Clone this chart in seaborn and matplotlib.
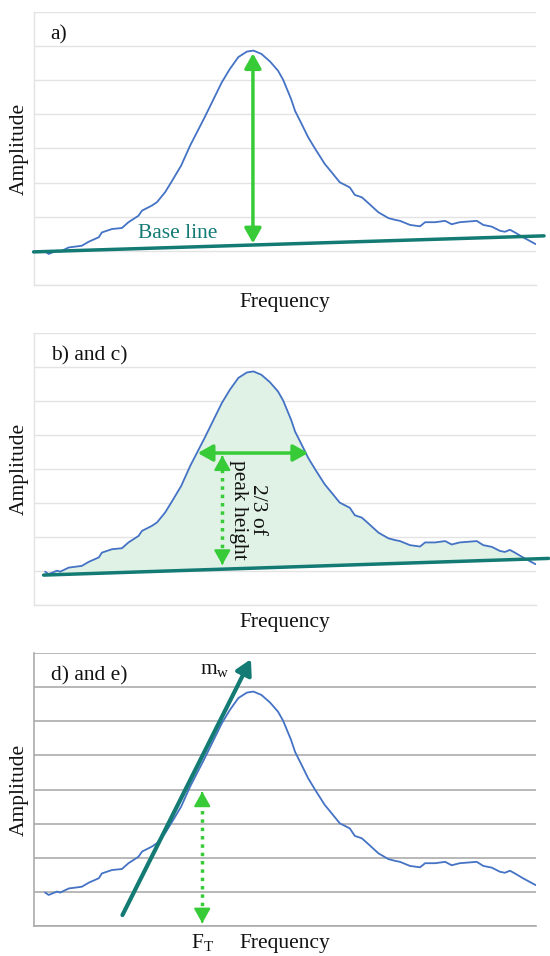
import numpy as np
import pandas as pd
import matplotlib
matplotlib.use("Agg")
import matplotlib.pyplot as plt
import matplotlib.transforms as mtrans
import seaborn as sns

# ---- data (x: 0-100 frequency units, y: grid units) ----
freq = [2.3, 3.0, 4.7, 5.3, 7.0, 9.6, 11.0, 13.0, 13.6, 15.6, 17.6, 18.9, 20.9,
        21.6, 23.6, 24.6, 26.2, 27.5, 29.4, 31.2, 34.1, 37.5, 39.1, 40.8, 42.5,
        43.8, 45.4, 47.1, 48.7, 49.7, 50.6, 51.3, 52.1, 53.4, 54.7, 56.1, 58.0,
        59.4, 61.0, 63.0, 64.0, 65.4, 66.7, 68.7, 70.7, 72.0, 73.0, 75.0, 77.0,
        78.0, 80.0, 82.0, 83.3, 84.9, 86.6, 88.3, 89.6, 91.3, 92.9, 93.9, 94.9,
        95.9, 97.5, 100.0]
amp = [0.98, 0.91, 1.01, 0.98, 1.10, 1.15, 1.27, 1.40, 1.54, 1.64, 1.67, 1.84, 2.03,
       2.18, 2.33, 2.43, 2.72, 3.03, 3.50, 4.09, 4.92, 5.94, 6.33, 6.68, 6.84,
       6.87, 6.77, 6.55, 6.28, 6.02, 5.70, 5.45, 5.10, 4.72, 4.33, 3.99, 3.55,
       3.30, 3.01, 2.86, 2.64, 2.57, 2.40, 2.13, 1.96, 1.91, 1.88, 1.76, 1.72,
       1.84, 1.84, 1.88, 1.78, 1.84, 1.86, 1.88, 1.76, 1.71, 1.59, 1.56, 1.62,
       1.54, 1.40, 1.20]

baseline_a_x = [0.0, 101.7]
baseline_a_y = [0.97, 1.44]
baseline_b_x = [2.0, 102.6]
baseline_b_y = [0.88, 1.37]

peak_x = 43.7
peak_arrow_y = [1.22, 6.79]
width_arrow_x = [32.7, 54.7]
width_arrow_y = 4.47
height_arrow_x = 37.6
height_arrow_y = [1.18, 4.40]
slope_x = [17.7, 43.3]
slope_y = [0.32, 7.82]
ft_x = 33.6
ft_arrow_y = [0.08, 3.94]

panel_labels = ["a)", "b) and c)", "d) and e)"]
gridlevels = list(range(0, 9))

# ---- style ----
sns.set_theme(style="white")
plt.rcParams["font.family"] = ["Liberation Serif", "DejaVu Serif"]
plt.rcParams["mathtext.fontset"] = "custom"
plt.rcParams["mathtext.rm"] = "Liberation Serif"
plt.rcParams["mathtext.it"] = "Liberation Serif:italic"

BLUE = "#4472C4"
TEAL = "#137A74"
GREEN = "#38CB38"
FILL = "#DFF2E5"
TXT = "#111111"
FS = 15.5

df = pd.DataFrame({"Frequency": freq, "Amplitude": amp})

fig = plt.figure(figsize=(5.5, 9.56), dpi=100)
H = 956.0
W = 550.0
LPX, RPX = 33.6, 535.5
tops = [12, 333, 653]
bots = [285, 605, 926]
axes = []
for t, b in zip(tops, bots):
    ax = fig.add_axes([LPX / W, 1 - b / H, (RPX - LPX) / W, (b - t) / H])
    axes.append(ax)

HEAD = "-|>,head_width=0.42,head_length=0.75"


def dbl_arrow(ax, p0, p1, color, dotted=False, lw=2.5):
    p0 = np.array(p0, float)
    p1 = np.array(p1, float)
    if not dotted:
        ax.annotate("", xy=tuple(p1), xytext=tuple(p0),
                    arrowprops=dict(arrowstyle="<|-|>,head_width=0.42,head_length=0.75",
                                    color=color, lw=lw, shrinkA=0, shrinkB=0), zorder=5)
        return
    # dotted shaft + solid heads
    disp0 = ax.transData.transform(p0)
    disp1 = ax.transData.transform(p1)
    d = disp1 - disp0
    u = d / np.linalg.norm(d)
    back = 9.0  # pixels: head length
    inv = ax.transData.inverted()
    s0 = inv.transform(disp0 + u * back)
    s1 = inv.transform(disp1 - u * back)
    ax.plot([s0[0], s1[0]], [s0[1], s1[1]], color=color, lw=lw,
            ls=(0, (1.0, 1.4)), solid_capstyle="butt", dash_capstyle="butt", zorder=5)
    for tip, base in ((p1, inv.transform(disp1 - u * 2)), (p0, inv.transform(disp0 + u * 2))):
        ax.annotate("", xy=tuple(tip), xytext=tuple(base),
                    arrowprops=dict(arrowstyle=HEAD, color=color, lw=1.5,
                                    shrinkA=0, shrinkB=0), zorder=5)


for i, ax in enumerate(axes):
    gcol = "#ABABAB" if i == 2 else "#E3E3E3"
    glw = 1.2 if i == 2 else 1.0
    ax.set_xlim(0, 100)
    ax.set_ylim(0, 8)
    ax.set_yticks(gridlevels)
    ax.set_xticks([])
    ax.grid(axis="y", color=gcol, lw=glw)
    ax.set_axisbelow(True)
    for s in ["top", "right"]:
        ax.spines[s].set_visible(False)
    for s in ["left", "bottom"]:
        ax.spines[s].set_color(gcol)
        ax.spines[s].set_linewidth(glw)
    ax.tick_params(length=0, labelleft=False, labelbottom=False)
    sns.lineplot(data=df, x="Frequency", y="Amplitude", ax=ax, color=BLUE, lw=1.3, zorder=3)
    ax.set_xlabel("")
    ax.set_ylabel("")
    hpx = bots[i] - tops[i]
    ax.text(0.5, -22 / hpx, "Frequency", fontsize=FS, color=TXT, ha="center",
            va="baseline", transform=ax.transAxes)
    ax.text(-14.4 / (RPX - LPX), 0.5, "Amplitude", fontsize=FS, color=TXT, ha="center",
            va="center", rotation=90, transform=ax.transAxes)
    ax.text(3.4, 7.32, panel_labels[i], fontsize=FS, color=TXT, va="center", ha="left")

# ---- panel a ----
ax = axes[0]
ax.plot(baseline_a_x, baseline_a_y, color=TEAL, lw=2.5, clip_on=False, zorder=4)
dbl_arrow(ax, (peak_x, peak_arrow_y[0]), (peak_x, peak_arrow_y[1]), GREEN)
ax.text(20.8, 1.51, "Base line", color=TEAL, fontsize=FS, va="center", ha="left")

# ---- panel b ----
ax = axes[1]
x_arr = np.array(freq)
y_arr = np.array(amp)
base_b = np.interp(x_arr, baseline_b_x, baseline_b_y)
ax.fill_between(x_arr, base_b, y_arr, where=y_arr >= base_b,
                interpolate=True, color=FILL, zorder=1, lw=0)
ax.plot(baseline_b_x, baseline_b_y, color=TEAL, lw=2.5, clip_on=False, zorder=4)
dbl_arrow(ax, (width_arrow_x[0], width_arrow_y), (width_arrow_x[1], width_arrow_y), GREEN)
dbl_arrow(ax, (height_arrow_x, height_arrow_y[0]), (height_arrow_x, height_arrow_y[1]),
          GREEN, dotted=True)
ax.text(42.8, 2.8, "2/3 of\npeak height", rotation=270, fontsize=FS, color=TXT,
        ha="center", va="center", multialignment="center", linespacing=1.0)

# ---- panel c ----
ax = axes[2]
ax.annotate("", xy=(slope_x[1], slope_y[1]), xytext=(slope_x[0], slope_y[0]),
            arrowprops=dict(arrowstyle="-|>,head_width=0.42,head_length=0.75",
                            color=TEAL, lw=3, shrinkA=0, shrinkB=0), zorder=6)
ax.text(33.1, 7.51, r"m$_\mathrm{w}$", fontsize=FS, color=TXT, va="center", ha="left")
dbl_arrow(ax, (ft_x, ft_arrow_y[0]), (ft_x, ft_arrow_y[1]), GREEN, dotted=True)
tr = mtrans.blended_transform_factory(ax.transData, ax.transAxes)
ax.text(ft_x, -22 / 273, r"F$_\mathrm{T}$", fontsize=FS, color=TXT, ha="center",
        va="baseline", transform=tr)

fig.savefig("out.png", dpi=100, facecolor="white")
